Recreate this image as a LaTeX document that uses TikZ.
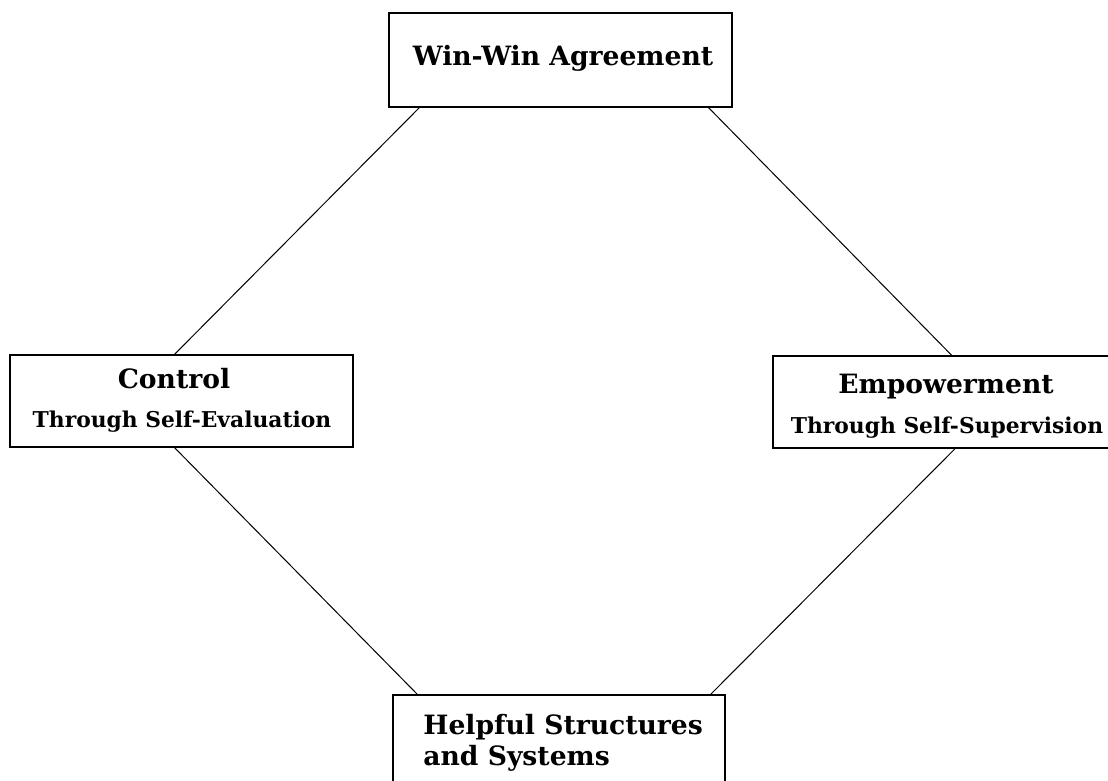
\documentclass[tikz,border=0pt]{standalone}
\usepackage{fontspec}
\setmainfont{DejaVu Serif}
\usetikzlibrary{calc}
\tikzset{
  termbox/.style={draw, line width=0.7pt, inner sep=0pt, align=center},
  headtext/.style={font=\bfseries\fontsize{13.3}{15.5}\selectfont, inner sep=0pt, anchor=base},
  subtext/.style={font=\bfseries\fontsize{10.9}{13}\selectfont, inner sep=0pt, anchor=base}
}
\begin{document}
\begin{tikzpicture}[x=0.5pt,y=-0.5pt]
  \useasboundingbox[fill=white] (0,0) rectangle (1108,781);
  % Four boxes of the diamond
  \node[termbox, minimum width=171.5pt, minimum height=47pt] (win) at (560.5,60) {};
  \node[headtext] at (563,66) {Win-Win Agreement};
  \node[termbox, minimum width=171.5pt, minimum height=46pt] (ctrl) at (181.5,401) {};
  \node[headtext] at (174,388) {Control};
  \node[subtext] at (182,427) {Through Self-Evaluation};
  \node[termbox, minimum width=168.5pt, minimum height=46pt] (emp) at (941.5,402) {};
  \node[headtext] at (946,393) {Empowerment};
  \node[subtext] at (947,433) {Through Self-Supervision};
  \node[termbox, minimum width=166pt, minimum height=55pt] (help) at (559,750) {};
  \node[headtext, anchor=north west, align=left] at (423,714) {Helpful Structures\\and Systems};

  % Connectors
  \draw[line width=0.5pt] ($(win.south west)!0.09!(win.south east)$) -- ($(ctrl.north west)!0.48!(ctrl.north east)$);
  \draw[line width=0.5pt] ($(win.south west)!0.93!(win.south east)$) -- ($(emp.north west)!0.53!(emp.north east)$);
  \draw[line width=0.5pt] ($(ctrl.south west)!0.48!(ctrl.south east)$) -- ($(help.north west)!0.075!(help.north east)$);
  \draw[line width=0.5pt] ($(emp.south west)!0.54!(emp.south east)$) -- ($(help.north west)!0.955!(help.north east)$);
\end{tikzpicture}
\end{document}
